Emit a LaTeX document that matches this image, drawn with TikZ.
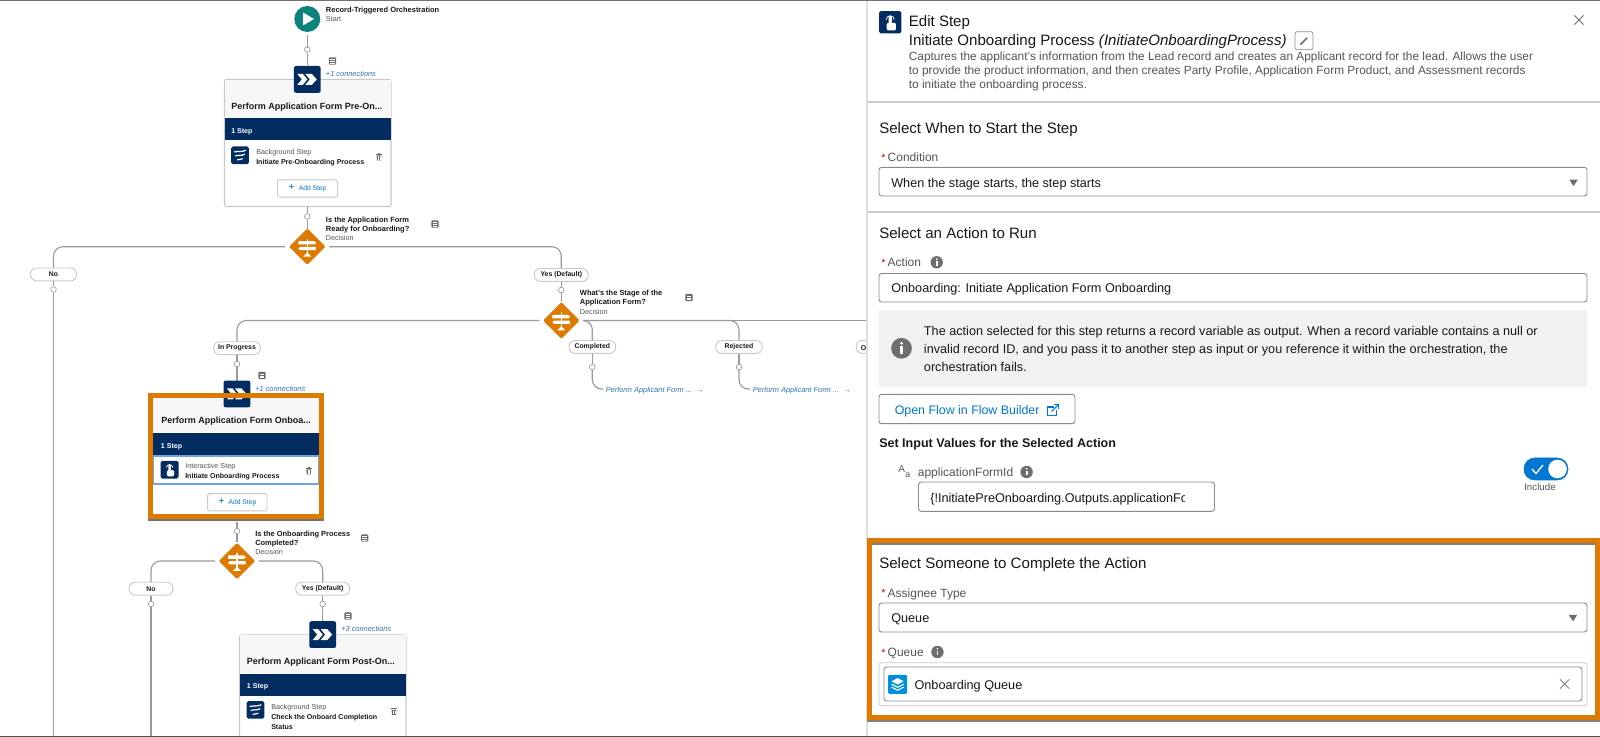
\documentclass[tikz,border=0pt]{standalone}
\usepackage{fontspec}
\setmainfont{Liberation Sans}
\usetikzlibrary{shapes.geometric}
\definecolor{navy}{HTML}{032D60}
\definecolor{teal1}{HTML}{0B827C}
\definecolor{orng}{HTML}{DD7A01}
\definecolor{conn}{HTML}{9A9A9A}
\definecolor{txt}{HTML}{181818}
\definecolor{sub}{HTML}{555555}
\definecolor{lnk}{HTML}{2E74C0}
\definecolor{btnblue}{HTML}{0176D3}
\definecolor{edge}{HTML}{C9C9C9}
\definecolor{fld}{HTML}{8A8A8A}
\definecolor{icon}{HTML}{706E6B}
\definecolor{selrow}{HTML}{6FA4E0}
\newcommand\fs[1]{\fontsize{#1}{#1}\selectfont}
\tikzset{
 lbl/.style={anchor=west,inner sep=0pt,text height=.72em,text depth=.2em,text=txt},
 small/.style={lbl,font=\fs{5.3}\bfseries},
 smallq/.style={lbl,font=\fs{5.6}\bfseries},
 smallsub/.style={lbl,font=\fs{5.4},text=sub},
 cardtitle/.style={lbl,font=\fs{6.75}\bfseries},
 bandtext/.style={lbl,font=\fs{5.3}\bfseries,text=white},
 conntext/.style={lbl,font=\fs{5.55}\itshape,text=lnk},
 pill/.style={draw=edge,fill=white,line width=.7pt,rounded corners=4.6pt,inner sep=0pt,minimum height=9.7pt,font=\fs{5.15}\bfseries,text=txt},
 dot/.style={circle,draw=conn,fill=white,line width=.5pt,minimum size=4.2pt,inner sep=0pt},
 line/.style={draw=conn,line width=.85pt},
 decision/.style={diamond,fill=orng,rounded corners=1pt,minimum size=27.5pt,inner sep=0pt},
 startnode/.style={circle,fill=teal1,minimum size=19.5pt,inner sep=0pt},
 card/.style={draw=edge,fill=white,line width=.8pt,rounded corners=1.5pt},
 addbtn/.style={draw=edge,fill=white,line width=.7pt,rounded corners=1.2pt,inner sep=0pt,font=\fs{5.05},text=btnblue},
 heading/.style={lbl,text height=1em,font=\fs{11.3}},
 body/.style={lbl,text height=.88em,font=\fs{9.5}},
 descr/.style={lbl,text height=.88em,font=\fs{8.9},text=sub},
 flabel/.style={lbl,text height=.88em,font=\fs{9},text=sub},
 req/.style={lbl,font=\fs{8},text=red!75!black},
 field/.style={draw=fld,fill=white,line width=.7pt,rounded corners=2pt},
 highlight/.style={draw=orng,line width=3.8pt},
 stageicon/.pic={
  \fill[navy,rounded corners=1.6pt] (-13.4,-13.4) rectangle (13.4,13.4);
  \fill[white] (-10,-5.5) -- (-4.5,-5.5) -- (0,0) -- (-4.5,5.5) -- (-10,5.5) -- (-5.5,0) -- cycle;
  \fill[white] (-2,-5.5) -- (4.5,-5.5) -- (9.5,0) -- (4.5,5.5) -- (-2,5.5) -- (2.5,0) -- cycle;
 },
 bgicon/.pic={
  \fill[navy,rounded corners=1.2pt] (-8.8,-8.8) rectangle (8.8,8.8);
  \draw[white,line width=.9pt,line cap=round] (-5.5,-3.5) .. controls (-2,-5) and (1,-2.5) .. (5.5,-5);
  \draw[white,line width=.9pt,line cap=round] (-4.5,0.5) .. controls (-1,-1) and (1,1) .. (4.5,-1);
  \draw[white,line width=.9pt,line cap=round] (-2.5,4.5) .. controls (-1,3.5) and (0.5,5) .. (2.5,3.5);
 },
 touchicon/.pic={
  \fill[navy,rounded corners=1.2pt] (-8.9,-8.9) rectangle (8.9,8.9);
  \draw[white,line width=.5pt] (-3.2,-2) arc[start angle=180,end angle=360,radius=3.2];
  \fill[white,rounded corners=.6pt] (-1.3,-5) rectangle (1.3,3);
  \fill[white,rounded corners=1pt] (-2.8,0.5) rectangle (4.6,6.6);
 },
 noteicon/.pic={
  \fill[icon,rounded corners=.7pt] (-3.6,-3.6) rectangle (3.6,3.6);
  \fill[white] (-2.4,-1.6) rectangle (2.4,-.8);
  \fill[white] (-2.4,.2) rectangle (2.4,1);
  \fill[white] (-2.4,2) rectangle (2.4,2.6);
 },
 trashicon/.pic={
  \fill[icon] (-3,-3.2) rectangle (3,-2.3);
  \fill[icon] (-1,-4) rectangle (1,-3.2);
  \fill[icon] (-2.4,-1.6) -- (2.4,-1.6) -- (2,3.4) -- (-2,3.4) -- cycle;
  \fill[white] (-1,-.8) rectangle (-.5,2.6);
  \fill[white] (.5,-.8) rectangle (1,2.6);
 },
 signicon/.pic={
  \fill[white] (-.7,-8) rectangle (.7,7);
  \fill[white] (-9,-5.5) -- (7,-5.5) -- (9,-3.8) -- (7,-2.2) -- (-9,-2.2) -- cycle;
  \fill[white] (-7,.2) -- (8.5,.2) -- (8.5,3.5) -- (-7,3.5) -- (-9,1.8) -- cycle;
  \fill[white] (0,5.5) -- (4,10) -- (-4,10) -- cycle;
 },
 infoicon/.pic={
  \fill[icon] (0,0) circle (6.2);
  \fill[white] (0,-3.2) circle (.95);
  \fill[white] (-.9,-1.2) rectangle (.9,3.4);
 },
 bigicon/.pic={
  \fill[icon] (0,0) circle (10.4);
  \fill[white] (0,-5) circle (1.5);
  \fill[white] (-1.5,-1.8) rectangle (1.5,5.5);
 },
 closeicon/.pic={
  \draw[icon,line width=.6pt] (-4.6,-4.6) -- (4.6,4.6) (-4.6,4.6) -- (4.6,-4.6);
 },
 caret/.pic={
  \fill[icon] (-4.2,-3) -- (4.2,-3) -- (0,3.4) -- cycle;
 },
 pencilicon/.pic={
  \draw[icon,line width=1.3pt] (-3.6,3.6) -- (3.2,-3.2);
 },
 exticon/.pic={
  \draw[btnblue,line width=.8pt] (1,-3) -- (-5,-3) -- (-5,5.6) -- (3.6,5.6) -- (3.6,0);
  \draw[btnblue,line width=.8pt] (-1,1.5) -- (5.6,-5);
  \draw[btnblue,line width=.8pt] (1.4,-5.4) -- (5.8,-5.4) -- (5.8,-1);
 },
 stackicon/.pic={
  \fill[btnblue!80!cyan,rounded corners=1pt] (-9.5,-9.5) rectangle (9.5,9.5);
  \fill[white] (0,-6.2) -- (6,-3) -- (0,.2) -- (-6,-3) -- cycle;
  \draw[white,line width=.8pt] (-6,-.2) -- (0,3) -- (6,-.2);
  \draw[white,line width=.8pt] (-6,2.8) -- (0,6) -- (6,2.8);
 },
}
\begin{document}
\begin{tikzpicture}[x=.75pt,y=-.75pt]
\useasboundingbox (0,0) rectangle (1600,737);
\fill[white] (0,0) rectangle (1600,737);

%% ---------- nodes of the flow ----------
\node[startnode] (start) at (307.3,19) {};
\fill[white] (303,12.5) -- (314,19) -- (303,25.5) -- cycle;
\node[smallq] (startT) at (325.7,8.7) {Record-Triggered Orchestration};
\node[smallsub] (startS) at (325.7,17.7) {Start};
\node[dot] (d1) at (307.3,49.5) {};
\coordinate (s1) at (307.3,66);
\pic at (332.5,61) {noteicon};
\node[conntext] (c1) at (325.7,73.5) {+1 connections};

\draw[card,fill=white] (224.5,79.5) rectangle (391,206.5);
\fill[gray!6] (225,80) rectangle (390.5,118);
\fill[navy] (225,118.5) rectangle (390.6,140);
\pic at (307.3,79.4) {stageicon};
\node[cardtitle] (t1) at (231,106) {Perform Application Form Pre-On...};
\node[bandtext] (b1) at (231,130.5) {1 Step};
\pic at (240,155.3) {bgicon};
\node[smallsub] (k1) at (256,151.5) {Background Step};
\node[small] (n1) at (256,161) {Initiate Pre-Onboarding Process};
\pic at (379,157) {trashicon};
\node[addbtn,minimum width=45pt,minimum height=13pt] (a1) at (307.5,188.5) {{\fs{8}+}\hspace{3pt}Add Step};
\coordinate (cardbot1) at (307.3,207);
\node[dot] (d2) at (307.3,216.5) {};
\node[decision] (dec1) at (307.3,246.7) {};
\pic at (307.3,246.7) {signicon};
\node[smallq] (q1a) at (325.7,219.5) {Is the Application Form};
\node[smallq] (q1b) at (325.7,228.2) {Ready for Onboarding?};
\node[smallsub] (q1c) at (325.7,237) {Decision};
\pic at (435,224) {noteicon};

\node[pill,minimum width=34.5pt] (no1) at (53.5,274.5) {No};
\node[dot] (d3) at (53.5,289.5) {};
\coordinate (bot1) at (53.5,737);
\node[pill,minimum width=40.5pt] (yes1) at (561.3,275) {Yes (Default)};
\node[dot] (d4) at (561.3,290) {};
\node[decision] (dec2) at (561.3,320.5) {};
\pic at (561.3,320.5) {signicon};
\node[smallq] (q2a) at (579.7,292.5) {What's the Stage of the};
\node[smallq] (q2b) at (579.7,301.5) {Application Form?};
\node[smallsub] (q2c) at (579.7,311) {Decision};
\pic at (689,297.5) {noteicon};

\node[pill,minimum width=35pt] (ip) at (237,348.2) {In Progress};
\node[dot] (d5) at (237,364) {};
\node[pill,minimum width=35pt] (comp) at (592.3,347) {Completed};
\node[dot] (d6) at (592.3,367) {};
\node[conntext] (l1) at (605.5,389) {Perform Applicant Form ...};
\node[lbl,font=\fs{5.6},text=lnk] (la1) at (696,388.6) {→};
\node[pill,minimum width=35pt] (rej) at (739,347) {Rejected};
\node[dot] (d7) at (739,367) {};
\node[conntext] (l2) at (752.5,389) {Perform Applicant Form ...};
\node[lbl,font=\fs{5.6},text=lnk] (la2) at (843,388.6) {→};
\node[pill,minimum width=35pt,anchor=west] (oth) at (855.7,347) {};
\node[lbl,font=\fs{5.15}\bfseries] (otht) at (860.5,347) {Ot};
\coordinate (othEnd) at (880,320.5);

%% connectors
\begin{scope}[every path/.style={line}]
\draw[shorten <=2pt,shorten >=-1pt] (start) -- (d1);
\draw[shorten >=.5pt] (d1) -- (s1);
\draw (cardbot1) -- (d2);
\draw[shorten >=-1pt] (d2) -- (dec1);
\draw[rounded corners=7pt,shorten <=2.5pt] (dec1.west) -| (no1.north);
\draw[rounded corners=7pt,shorten <=2.5pt] (dec1.east) -| (yes1.north);
\draw (no1) -- (d3);
\draw (d3) -- (bot1);
\draw (yes1) -- (d4);
\draw (d4) -- (dec2);
\draw[rounded corners=7pt,shorten <=2.5pt] (dec2.west) -| (ip.north);
\draw[rounded corners=7pt,shorten <=2.5pt] (dec2.east) -| (comp.north);
\draw[rounded corners=7pt,shorten <=2.5pt] (dec2.east) -| (rej.north);
\draw[shorten <=2.5pt] (dec2.east) -- (othEnd);
\draw (ip) -- (d5);
\draw (comp) -- (d6);
\draw (rej) -- (d7);
\draw[rounded corners=7pt,shorten >=2pt] (d6) |- (l1.west);
\draw[rounded corners=7pt,shorten >=2pt] (d7) |- (l2.west);
\end{scope}

%% ---------- highlighted stage ----------
\coordinate (s2) at (237,381);
\draw[line] (d5) -- (s2);
\pic at (262,375.5) {noteicon};
\node[conntext] (c2) at (255,387.7) {+1 connections};
\fill[black!55] (148,398) rectangle (324.3,520.8);
\fill[white] (150,395) rectangle (321.5,517);
\fill[gray!6] (152,397) rectangle (320,432.5);
\pic at (237,394) {stageicon};
\node[cardtitle] (t2) at (161,420.3) {Perform Application Form Onboa...};
\fill[navy] (153,433) rectangle (319,455.7);
\node[bandtext] (b2) at (160.7,444.7) {1 Step};
\draw[selrow,line width=.8pt] (153.5,456) rectangle (319,484);
\pic at (169.6,469.7) {touchicon};
\node[smallsub] (k2) at (185,465) {Interactive Step};
\node[small] (n2) at (185,475) {Initiate Onboarding Process};
\pic at (308.7,471) {trashicon};
\node[addbtn,minimum width=44.5pt,minimum height=13pt] (a2) at (237.3,502.3) {{\fs{8}+}\hspace{3pt}Add Step};
\draw[highlight] (150.2,395.2) rectangle (321.5,516.8);

\coordinate (cardbot2) at (237,522);
\node[dot] (d8) at (237,531) {};
\node[decision] (dec3) at (237,561) {};
\pic at (237,561) {signicon};
\node[smallq] (q3a) at (255,533) {Is the Onboarding Process};
\node[smallq] (q3b) at (255,542.5) {Completed?};
\node[smallsub] (q3c) at (255,551.5) {Decision};
\pic at (364.7,538) {noteicon};
\node[pill,minimum width=33pt] (no2) at (151,588.7) {No};
\node[dot] (d9) at (151,604) {};
\coordinate (bot2) at (151,737);
\node[pill,minimum width=40.5pt] (yes2) at (322.7,588.7) {Yes (Default)};
\node[dot] (d10) at (322.7,604) {};
\coordinate (s3) at (322.7,621.3);
\begin{scope}[every path/.style={line}]
\draw (cardbot2) -- (d8);
\draw (d8) -- (dec3);
\draw[rounded corners=7pt,shorten <=2.5pt] (dec3.west) -| (no2.north);
\draw[rounded corners=7pt,shorten <=2.5pt] (dec3.east) -| (yes2.north);
\draw (no2) -- (d9);
\draw (d9) -- (bot2);
\draw (yes2) -- (d10);
\draw (d10) -- (s3);
\end{scope}

%% ---------- third stage ----------
\pic at (348,616) {noteicon};
\node[conntext] (c3) at (341,628) {+3 connections};
\draw[card] (239.7,635) rectangle (406,745);
\fill[gray!6] (240.2,635.5) rectangle (405.5,673);
\pic at (322.7,634.6) {stageicon};
\node[cardtitle] (t3) at (246.7,661) {Perform Applicant Form Post-On...};
\fill[navy] (240.1,673.7) rectangle (405.6,695.7);
\node[bandtext] (b3) at (246.7,685) {1 Step};
\pic at (255.5,709.8) {bgicon};
\node[smallsub] (k3) at (271,706) {Background Step};
\node[small] (n3a) at (271,716.3) {Check the Onboard Completion};
\node[small] (n3b) at (271,726) {Status};
\pic at (394,711.5) {trashicon};

%% ---------- edit panel ----------
\fill[gray!25] (866,0) rectangle (868,737);
\fill[white] (868,0) rectangle (1600,737);
\draw[edge,line width=1.1pt] (868,102) -- (1600,102);
\draw[edge,line width=.8pt] (868,212) -- (1600,212);

\pic[scale=1.25] at (890.2,22.2) {touchicon};
\node[heading] (h1) at (908.6,20.7) {Edit Step};
\node[heading] (h2) at (908.6,39.7) {Initiate Onboarding Process \textit{(InitiateOnboardingProcess)}};
\node[draw=fld,rounded corners=1.5pt,minimum width=13.5pt,minimum height=13.5pt,inner sep=0pt,line width=.5pt] (pen) at (1304,40.7) {};
\pic at (1304,41) {pencilicon};
\node[descr] (de1) at (908.6,55.5) {Captures the applicant's information from the Lead record and creates an Applicant record for the lead. Allows the user};
\node[descr] (de2) at (908.6,69.8) {to provide the product information, and then creates Party Profile, Application Form Product, and Assessment records};
\node[descr] (de3) at (908.6,84) {to initiate the onboarding process.};
\pic at (1579,20) {closeicon};

\node[heading] (sec1) at (879,128) {Select When to Start the Step};
\node[req] (r1) at (881,158) {*};
\node[flabel] (f1) at (887.4,157.3) {Condition};
\draw[field] (879,167.3) rectangle (1587,196);
\node[body] (v1) at (891,182.7) {When the stage starts, the step starts};
\pic at (1573.5,182.7) {caret};

\node[heading] (sec2) at (879,232.7) {Select an Action to Run};
\node[req] (r2) at (881,263) {*};
\node[flabel] (f2) at (887.4,262.3) {Action};
\pic at (936.7,262.3) {infoicon};
\draw[field] (879,273.5) rectangle (1587,302);
\node[body] (v2) at (891,288) {Onboarding: Initiate Application Form Onboarding};

\fill[gray!11] (879,310) rectangle (1587,387);
\pic at (901.5,348.3) {bigicon};
\node[body] (w1) at (923.7,330.7) {The action selected for this step returns a record variable as output. When a record variable contains a null or};
\node[body] (w2) at (923.7,348.7) {invalid record ID, and you pass it to another step as input or you reference it within the orchestration, the};
\node[body] (w3) at (923.7,367) {orchestration fails.};

\draw[field] (879,394.3) rectangle (1075,423.7);
\node[body,font=\fs{9.3},text=btnblue] (o1) at (894.5,409.7) {Open Flow in Flow Builder};
\pic at (1052.5,410) {exticon};
\node[body,font=\fs{9.4}\bfseries] (si) at (879,443) {Set Input Values for the Selected Action};
\node[lbl,font=\fs{7.5},text=sub] (aa) at (898,469) {A};
\node[lbl,font=\fs{6.5},text=sub] (ab) at (905,474) {a};
\node[flabel] (f3) at (917.6,472) {applicationFormId};
\pic at (1026.6,472) {infoicon};
\draw[field] (918.5,482) rectangle (1214.5,511.3);
\begin{scope}
\clip (925,485) rectangle (1184,509);
\node[body] (v3) at (930,497.5) {\{!InitiatePreOnboarding.Outputs.applicationFo};
\end{scope}
\draw[btnblue,fill=btnblue,rounded corners=8pt] (1524,458) rectangle (1568,480);
\fill[white] (1557.5,469) circle (9.3);
\draw[white,line width=1pt] (1532,469) -- (1536,473.5) -- (1543,465);
\node[lbl,font=\fs{7.3},text=sub] (inc) at (1524,487.3) {Include};

%% ---------- highlighted assignee section ----------
\node[heading] (sec3) at (879,563) {Select Someone to Complete the Action};
\node[req] (r3) at (881,593.5) {*};
\node[flabel] (f4) at (887.4,592.7) {Assignee Type};
\draw[field] (879,603) rectangle (1587,632);
\node[body] (v4) at (891,618) {Queue};
\pic at (1573,618) {caret};
\node[req] (r4) at (881,652.7) {*};
\node[flabel] (f5) at (887.4,652) {Queue};
\pic at (937.4,652) {infoicon};
\draw[edge,line width=.6pt,rounded corners=2pt] (879,662.7) rectangle (1587,705.7);
\draw[field] (884,667) rectangle (1582,701);
\pic at (897.6,684.3) {stackicon};
\node[body] (v5) at (914.3,685) {Onboarding Queue};
\pic at (1564.6,684) {closeicon};
\fill[black!50] (867,720) rectangle (1600,721.6);
\fill[black!50] (872,543) rectangle (1595,544.6);
\draw[highlight] (869.5,540.8) rectangle (1597.5,717.6);

%% frame lines of the screenshot
\fill[black!55] (0,0) rectangle (1600,1);
\fill[black!70] (0,735.8) rectangle (1600,737);
\end{tikzpicture}
\end{document}
